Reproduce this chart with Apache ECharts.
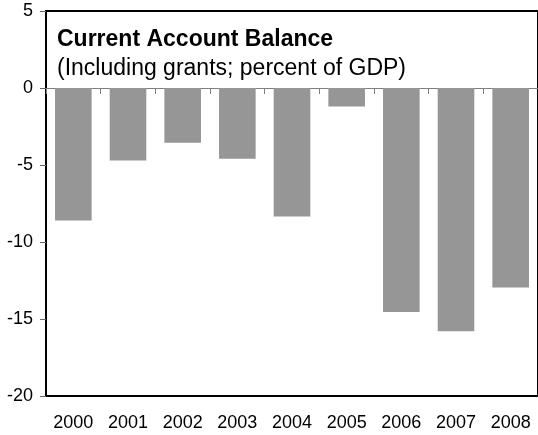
<!DOCTYPE html>
<html>
<head>
<meta charset="utf-8">
<script src="https://cdn.jsdelivr.net/npm/echarts@6/dist/echarts.min.js"></script>
<style>
html,body{margin:0;padding:0;background:#fff;}
#chart{width:538px;height:435px;}
</style>
</head>
<body>
<div id="chart"></div>
<script>
const categories = ['2000','2001','2002','2003','2004','2005','2006','2007','2008'];
const balance = [-8.6, -4.7, -3.55, -4.6, -8.35, -1.2, -14.55, -15.8, -12.95];
const yTicks = [-20, -15, -10, -5, 0, 5];
const titleText = 'Current Account Balance';
const subtitleText = '(Including grants; percent of GDP)';

const chart = echarts.init(document.getElementById('chart'));
const font = '"Liberation Sans", Arial, Helvetica, sans-serif';
chart.setOption({
  animation: false,
  backgroundColor: '#fff',
  textStyle: {fontFamily: font},
  graphic: [
    {type: 'text', id: 'ttl', left: 57, top: 28, style: {text: titleText, font: 'bold 23px ' + font, fill: '#000'}},
    {type: 'text', id: 'sub', left: 57, top: 57, style: {text: subtitleText, font: '23px ' + font, fill: '#000'}}
  ],
  grid: {left: 46, top: 11, right: -3, bottom: 39, show: true, borderColor: '#000', borderWidth: 2, backgroundColor: 'transparent', containLabel: false},
  xAxis: [
    {type: 'category', data: categories, position: 'bottom',
     axisLine: {show: true, onZero: false, lineStyle: {color: '#000', width: 2}},
     axisTick: {show: false},
     axisLabel: {color: '#000', fontSize: 18, margin: 18, interval: 0}},
    {type: 'category', data: categories, position: 'top',
     axisLine: {show: true, onZero: true, lineStyle: {color: '#808080', width: 1}},
     axisTick: {show: true, inside: true, length: 6, lineStyle: {color: '#808080'}},
     axisLabel: {show: false}}
  ],
  yAxis: {type: 'value', min: yTicks[0], max: yTicks[yTicks.length-1], interval: 5,
    axisLine: {show: true, lineStyle: {color: '#000', width: 2}},
    axisTick: {show: true, length: 6, lineStyle: {color: '#666'}},
    axisLabel: {color: '#000', fontSize: 18, margin: 13},
    splitLine: {show: false}},
  series: [{type: 'bar', data: balance, xAxisIndex: 0, barWidth: '67%', itemStyle: {color: '#969696'}}]
});
</script>
</body>
</html>
